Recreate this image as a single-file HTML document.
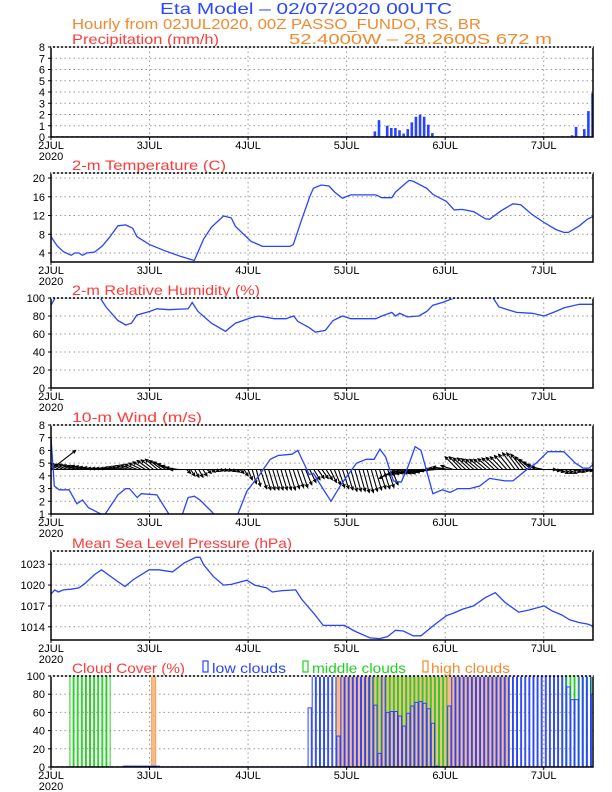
<!DOCTYPE html>
<html><head><meta charset="utf-8"><style>
html,body{margin:0;padding:0;background:#fff;}
svg{display:block;font-family:"Liberation Sans",sans-serif;}
</style></head><body>
<svg id="chart" width="612" height="792" viewBox="0 0 612 792" xmlns="http://www.w3.org/2000/svg">
<text x="160" y="14" font-size="16" fill="#2a48ff" textLength="292" lengthAdjust="spacingAndGlyphs">Eta Model – 02/07/2020 00UTC</text>
<text x="72" y="29" font-size="15" fill="#f08a30" textLength="409" lengthAdjust="spacingAndGlyphs">Hourly from 02JUL2020, 00Z  PASSO_FUNDO, RS, BR</text>
<text x="289" y="44" font-size="15" fill="#f08a30" textLength="263" lengthAdjust="spacingAndGlyphs">52.4000W – 28.2600S    672   m</text>
<g id="plots"></g>
</svg>
<script>
// ---------- data ----------
const dayLabels = ["2JUL","3JUL","4JUL","5JUL","6JUL","7JUL"];
const precipHours = [79,80,82,83,84,85,86,87,88,89,90,91,92,93,127,128,130,131,132];
const precipVals  = [0.5,1.5,1.0,0.8,0.8,0.6,0.3,0.7,1.3,1.8,2.0,1.8,1.1,0.35,0.15,0.9,0.7,2.3,3.9];
const precipTicks = [0,1,2,3,4,5,6,7,8];

const tempHours = [0,1.5,3,4.9,5.8,6.8,7.7,8.7,10.6,12.5,14.4,16.3,18.2,19.9,20.9,24,27.7,31.5,33.4,34.9,37.2,39.1,42,43.9,44.9,48.7,51.5,58.2,59,61,63,63.9,65.8,67.7,69.1,71,73,79.1,80.6,83,83.9,87.2,88.2,91.5,93,96.3,98.2,100.1,103,105.8,106.8,109.6,112.5,114.4,117.2,120.1,123,124.9,126,128.7,130.6,132];
const tempVals  = [7.5,5.5,4.3,3.5,4,4,3.5,4,4.2,5.5,7.5,9.8,10,9.3,7.5,5.8,4.5,3.3,2.8,2.4,7,9.5,11.9,11.5,9.7,6.5,5.4,5.4,5.8,11,16,17.8,18.5,18.3,17,15.7,16.4,16.4,15.8,15.8,17,19.5,19.3,17.8,16.5,15,13.2,13.3,12.8,11.3,11.2,13,14.5,14.3,12.2,10.5,9,8.4,8.4,9.8,11.2,11.8];
const tempTicks = [4,8,12,16,20];

const rhHours = [0,1,12,13.4,16.3,18.2,19.6,20.9,24,25.8,28.7,33.4,34.4,35.8,39.1,42.5,44.9,48.7,50.6,54.4,57.2,59.1,60.1,62.9,64.4,66.8,68.7,71,73,79.1,80.6,83,83.9,84.9,86.8,89.6,91.5,93,95.3,98.2,107.7,109.1,113.4,117.2,120.1,122.9,124.9,128.7,132];
const rhVals  = [92,100,100,90,75,70,72,81,85,88,87,88,95,85,72,63,72,78,80,77,77,80,74,67,62,64,75,80,77,77,80,84,80,83,79,80,85,92,95,100,100,90,84,83,80,85,89,93,93];
const rhTicks = [0,20,40,60,80,100];

const windHours = [0,0.8,2,4.4,6.3,7.7,9.1,11.5,13,16.3,18.2,19.1,21,22,25.8,28.7,31.5,33.4,34.9,36.3,39.1,41,44.9,47.7,50.6,53.4,55.3,58.7,60.1,62.9,63.9,65.8,68.2,70.6,74.4,76.8,78.7,80.1,81.5,83.4,85.3,86.8,88.7,90.1,93,95.3,97.2,99.1,102,104.4,106.8,110.6,112.5,116.3,118.2,121,124.9,127.7,129.6,131,132];
const windSpeed = [7,3.2,2.9,2.9,1.8,2.1,1.5,1.1,0.9,2.5,3.0,3.0,2.3,2.6,2.5,1.0,0.5,2.3,2.4,2.1,1.2,0.5,0.5,2.8,4.0,5.3,5.6,5.7,6.0,4.1,4.2,3.2,2.0,3.3,5.0,5.3,5.3,6.1,5.5,3.6,3.5,4.6,6.3,6.0,2.6,2.9,2.7,3.0,3.0,3.2,3.8,3.6,3.6,4.6,5.0,5.9,5.9,5.0,4.6,4.6,4.9];
const windTicks = [1,2,3,4,5,6,7,8];
// hourly wind vectors: v in axis units (relative to 4.5 baseline), u in hours
const vecV = [1.5,
 0.5,0.5,0.45,0.4,0.4,0.35,0.3,0.3,0.25,0.2,
 0.15,0.1,0.1,0.1,0.1,0.15,0.2,0.25,0.3,0.35,
 0.4,0.5,0.6,0.7,0.75,0.8,0.7,0.6,0.45,0.3,
 0.15,0,-0.3,-0.5,-0.6,-0.6,-0.5,-0.3,-0.2,-0.15,
 -0.1,-0.1,-0.1,-0.15,-0.2,-0.3,-0.5,-0.8,-1.1,-1.3,
 -1.5,-1.6,-1.6,-1.6,-1.6,-1.6,-1.6,-1.6,-1.5,-1.4,
 -1.4,-1.2,-1.0,-0.8,-0.7,-0.7,-0.8,-1.0,-1.2,-1.4,
 -1.5,-1.6,-1.7,-1.7,-1.7,-1.8,-1.8,-1.7,-1.6,-1.5,
 -1.5,-1.4,-1.2,-0.7,-0.5,-0.4,-0.4,-0.35,-0.3,-0.3,
 -0.3,-0.3,-0.2,-0.1,0,0.1,0.2,0.3,1.0,1.0,
 0.9,0.9,0.85,0.8,0.8,0.8,0.85,0.9,0.95,1.0,
 1.1,1.2,1.3,1.3,1.2,1.0,0.8,0.6,0.4,0.2,
 0.0,-0.1,-0.2,-0.3,-0.3,-0.3,-0.2,-0.2,-0.1,-0.1,
 0,0];
const vecU = [6,
 -3,-3,-3,-3,-3,-3,-3,-3,-3,-3,
 -3,-3,-3,-3,-3,-3,-3,-3,-3,-3,
 -3,-3,-3,-3,-3,-3,-3,-3,-3,-3,
 -3,-3,1,1,1,1,1,1,1,1,
 1,1,1,1,1,1,1,1,1,1,
 1.5,1.5,1.5,1.5,1.5,1.5,1.5,1.5,1.5,1.5,
 1.5,1.5,1.5,1.5,1.5,1.5,1.5,1.5,1.5,1.5,
 1.5,1.5,1.5,1.5,1.5,1.5,1.5,1.5,1.5,1.5,
 1.5,1.5,1.5,-4,-4,-4,-4,-4,-4,-4,
 -4,-4,-4,-4,-4,-4,-4,-3,-3,-3,
 -3,-3,-3,-3,-3,-3,-3,-3,-3,-3,
 -3,-3,-3,-3,-3,-3,-3,-3,-3,-3,
 2,2,2,2,2,2,2,2,2,2,
 2,2];

const mslpHours = [0,0.9,1.8,3,4.9,6.8,8.2,10.6,12.3,14.4,16.3,18,20.1,23.9,26.3,29.6,32.5,35.3,36.3,37.2,39.6,42,43.9,47.7,49.6,52.5,53.9,56.3,59.6,61,63.9,66.3,68.7,71.5,73.9,77.7,80.1,82,83.9,85.8,88.2,90.1,93.4,96.3,98.2,100.1,102.9,105.8,108.2,110.6,113.9,116.3,120.1,122,124.4,126.3,128.7,130.6,132];
const mslpVals  = [1018.7,1019.3,1019,1019.3,1019.4,1019.6,1020.2,1021.5,1022.2,1021.3,1020.5,1019.8,1020.8,1022.2,1022.2,1021.9,1023.2,1024,1024,1022.9,1021.2,1020,1020.1,1020.7,1020,1019.6,1019,1019.2,1019.3,1018,1016,1014.2,1014.2,1014.2,1013.4,1012.4,1012.3,1012.6,1013.5,1013.4,1012.7,1012.7,1014.3,1015.6,1016,1016.5,1017,1018.2,1018.9,1017.5,1016.1,1016.4,1017,1016.3,1015.7,1015,1014.6,1014.4,1014.1];
const mslpTicks = [1014,1017,1020,1023];

const cloudLow = [
 0,0,0,0,0,0,0,0,0,0,0,0,
 0,0,0,0,0,0,1,1,1,1,1,1,
 1,1,1,0,0,0,0,0,0,0,0,0,
 0,0,0,0,0,0,0,0,0,0,0,0,
 0,0,0,0,0,0,0,0,0,0,0,0,
 0,0,0,65,100,100,100,100,100,100,34,100,
 100,100,100,100,100,100,100,68,15,100,60,61,
 61,56,45,59,67,71,72,70,64,48,1,0,
 0,67,100,100,100,100,100,100,100,100,100,100,
 100,100,100,100,100,100,100,100,100,100,100,100,
 100,100,100,100,100,100,88,74,74,100,100,100,
 80];
const cloudMid = [
 0,0,0,0,0,100,100,100,100,100,100,100,
 100,100,100,0,0,0,0,0,0,0,0,0,
 0,0,0,0,0,0,0,0,0,0,0,0,
 0,0,0,0,0,0,0,0,0,0,0,0,
 0,0,0,0,0,0,0,0,0,0,0,0,
 0,0,0,0,0,0,0,0,0,0,0,0,
 0,0,0,0,0,100,100,100,100,100,100,100,
 100,100,100,100,100,100,100,100,100,100,100,100,
 100,0,0,0,0,0,0,0,0,0,0,0,
 0,0,0,0,0,0,0,0,0,0,0,0,
 0,0,0,0,0,100,100,100,100,100,100,100,
 100];
const cloudHigh = [
 0,0,0,0,0,0,0,0,0,0,0,0,
 0,0,0,0,0,0,0,0,0,0,0,0,
 0,100,0,0,0,0,0,0,0,0,0,0,
 0,0,0,0,0,0,0,0,0,0,0,0,
 0,0,0,0,0,0,0,0,0,0,0,0,
 0,0,0,0,0,0,0,0,0,0,100,100,
 100,100,100,100,100,100,100,100,100,100,100,100,
 100,100,100,100,100,100,100,100,100,100,100,100,
 100,100,100,100,100,100,100,100,100,100,100,100,
 100,100,100,100,0,0,0,0,0,0,0,0,
 0,0,0,0,0,0,0,0,0,0,0,0,
 0];
const cloudTicks = [0,20,40,60,80,100];

// ---------- drawing ----------
const NS = "http://www.w3.org/2000/svg";
const root = document.getElementById("plots");
const X0 = 51, X1 = 593, HMAX = 132;
function xs(h){ return X0 + h*(X1-X0)/HMAX; }
function mk(tag, attrs, parent){
  const e = document.createElementNS(NS, tag);
  for (const k in attrs) e.setAttribute(k, attrs[k]);
  (parent||root).appendChild(e);
  return e;
}
const BLUE = "#2844ff", RED = "#ff3a3a", ORANGE="#f08a30", GREEN="#22d022";

function panel(name, top, bot, ymin, ymax, ticks, title, titleW){
  const g = mk("g", {});
  
  
  const ys = v => bot - (v - ymin)*(bot-top)/(ymax-ymin);
  for (let d=1; d<dayLabels.length; d++){
    const gl = mk("line",{x1:xs(d*24),x2:xs(d*24),y1:top,y2:bot,stroke:"#999","stroke-width":1,"stroke-dasharray":"1.5,3"},g);
    
    
  }
  ticks.forEach(t=>{
    if (t===ymin || t===ymax) return;
    const gl = mk("line",{x1:X0,x2:X1,y1:ys(t),y2:ys(t),stroke:"#999","stroke-width":1,"stroke-dasharray":"1.5,3"},g);
    
    
  });
  ticks.forEach(t=>{
    const tl = mk("text",{x:45,y:ys(t)+4,"font-size":11,"text-anchor":"end",fill:"#000"},g);
    tl.textContent = t;
    
    
    mk("line",{x1:X0-3,x2:X0,y1:ys(t),y2:ys(t),stroke:"#000"},g);
  });
  dayLabels.forEach((lab,d)=>{
    const tl = mk("text",{x:xs(d*24),y:bot+12,"font-size":11,"text-anchor":"middle",fill:"#000"},g);
    tl.textContent = lab;
    
    
    mk("line",{x1:xs(d*24),x2:xs(d*24),y1:bot,y2:bot+3,stroke:"#000"},g);
  });
  const yr = mk("text",{x:xs(0),y:bot+23,"font-size":11,"text-anchor":"middle",fill:"#000"},g);
  yr.textContent = "2020";
  
  
  const tt = mk("text",{x:72,y:top-3,"font-size":14,fill:RED,textLength:titleW,lengthAdjust:"spacingAndGlyphs"},g);
  tt.textContent = title;
  
  
  const cid = "clip-"+name;
  const cp = mk("clipPath",{id:cid},g);
  mk("rect",{x:X0,y:top,width:X1-X0,height:bot-top},cp);
  const content = mk("g",{"clip-path":"url(#"+cid+")"},g);
  return {g, content, ys, top, bot};
}
function frame(p){
  const f = mk("rect",{x:X0,y:p.top,width:X1-X0,height:p.bot-p.top,fill:"none",stroke:"#000","stroke-width":1.5},p.g);
  
  
  mk("line",{x1:X0,x2:X1,y1:p.top,y2:p.top,stroke:"#fff","stroke-width":1.6,"stroke-dasharray":"2,2"},p.g);
}
function line(p, hs, vs, name){
  const d = hs.map((h,i)=>(i?"L":"M")+xs(h).toFixed(1)+","+p.ys(vs[i]).toFixed(1)).join(" ");
  const l = mk("path",{d,fill:"none",stroke:BLUE,"stroke-width":1.3},p.content);
  
  
}

// precipitation
const pP = panel("precipitation",47,137,0,8,precipTicks,"Precipitation (mm/h)",147);
precipHours.forEach((h,i)=>{
  const b = mk("rect",{x:xs(h)-1.8,y:pP.ys(precipVals[i]),width:2.6,height:pP.ys(0)-pP.ys(precipVals[i]),fill:BLUE},pP.content);
  
  
});
mk("line",{x1:X0,x2:X1,y1:137,y2:137,stroke:BLUE,"stroke-width":1.5,"stroke-dasharray":"3,2"},pP.content);
frame(pP);

// temperature
const pT = panel("temperature",173,262,2.08,21.07,tempTicks,"2-m Temperature (C)",154);
line(pT,tempHours,tempVals,"temperature-line"); frame(pT);

// humidity
const pR = panel("humidity",298,388,0,100,rhTicks,"2-m Relative Humidity (%)",188);
line(pR,rhHours,rhVals,"humidity-line"); frame(pR);

// wind
const pW = panel("wind",425,514,1,8,windTicks,"10-m Wind (m/s)",130);
vecV.forEach((v,h)=>{
  const x1 = xs(h), y1 = pW.ys(4.5);
  const x2 = xs(h+vecU[h]), y2 = pW.ys(4.5+v);
  const a = mk("line",{x1,y1,x2,y2,stroke:"#000","stroke-width":1.1},pW.content);
  
  
  const ang = Math.atan2(y2-y1,x2-x1), L=3.5;
  const hd = mk("path",{d:`M${x2-L*Math.cos(ang-0.45)},${y2-L*Math.sin(ang-0.45)} L${x2},${y2} L${x2-L*Math.cos(ang+0.45)},${y2-L*Math.sin(ang+0.45)}`,fill:"none",stroke:"#000","stroke-width":1.1},pW.content);
  
  
});
mk("line",{x1:X0,x2:X1,y1:pW.ys(4.5),y2:pW.ys(4.5),stroke:"#000","stroke-width":1},pW.content);
line(pW,windHours,windSpeed,"wind-speed-line");
frame(pW);

// mslp
const pM = panel("pressure",551,640,1012.1,1024.9,mslpTicks,"Mean Sea Level Pressure (hPa)",220);
line(pM,mslpHours,mslpVals,"pressure-line"); frame(pM);

// clouds
const pC = panel("cloud",676,767,0,100,cloudTicks,"Cloud Cover (%)",113);
const HW = (X1-X0)/HMAX;
function cloudBars(arr, stroke, fill, name, w){
  arr.forEach((v,h)=>{
    if (v<=0) return;
    const r = mk("rect",{x:xs(h)-w/2,y:pC.ys(v),width:w,height:pC.ys(0)-pC.ys(v),fill,stroke,"stroke-width":1},pC.content);
    
    
  });
}
cloudBars(cloudHigh, "#f5a060", "#f8bb88", "high-cloud-bar", HW);
cloudBars(cloudMid, GREEN, "none", "middle-cloud-bar", 3.2);
cloudBars(cloudLow, BLUE, "none", "low-cloud-bar", 3.2);
mk("line",{x1:X0,x2:X1,y1:767,y2:767,stroke:BLUE,"stroke-width":1.5,"stroke-dasharray":"3,2"},pC.content);
frame(pC);
[[203,212,74,BLUE,"low clouds","legend-low-clouds"],[303,312,94,GREEN,"middle clouds","legend-middle-clouds"],[423,431,79,ORANGE,"high clouds","legend-high-clouds"]].forEach(L=>{
  const lg = mk("g",{});
  
  
  mk("rect",{x:L[0],y:661,width:5,height:11,fill:"none",stroke:L[3],"stroke-width":1.2},lg);
  const t = mk("text",{x:L[1],y:673,"font-size":14,fill:L[3],textLength:L[2],lengthAdjust:"spacingAndGlyphs"},lg);
  t.textContent = L[4];
});
</script>
</body></html>
